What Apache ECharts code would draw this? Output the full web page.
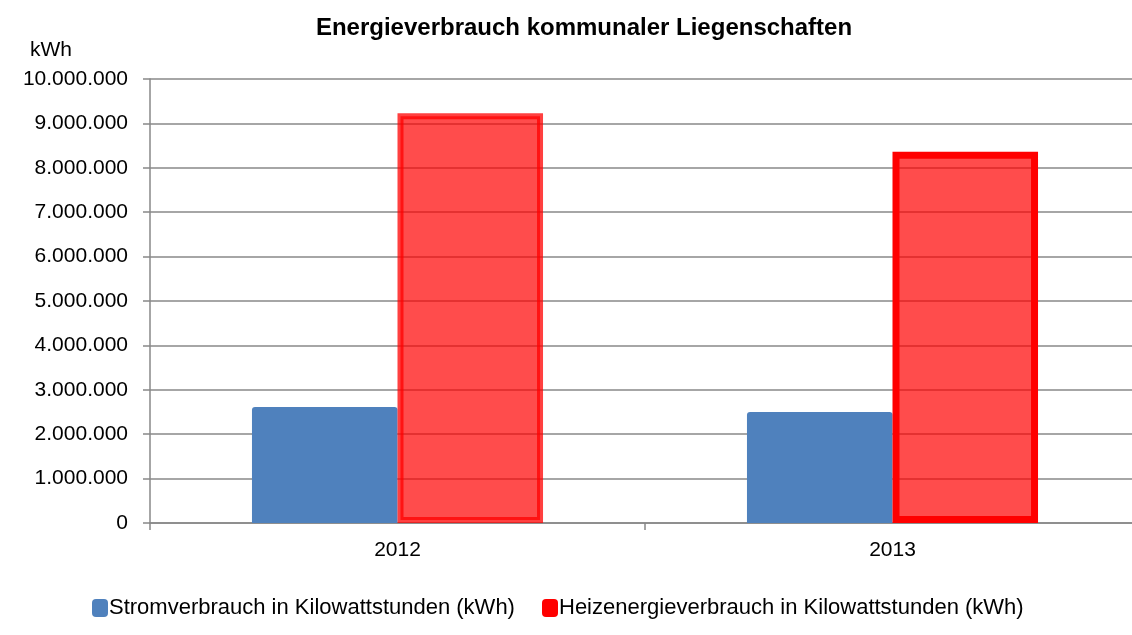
<!DOCTYPE html>
<html>
<head>
<meta charset="utf-8">
<script src="https://cdn.jsdelivr.net/npm/echarts@6/dist/echarts.min.js"></script>
<style>
  html, body { margin: 0; padding: 0; background: #fff; overflow: hidden; }
  /* etwas breiter als das Fenster: das Diagramm läuft rechts aus dem Bild */
  #chart { width: 1140px; height: 635px; }
</style>
</head>
<body>
<div id="chart"></div>
<script>
const years = ['2012', '2013']
const stromValues = [2610000, 2500000]
const heizValues = [9230000, 8360000]
const seriesNames = [
  'Stromverbrauch in Kilowattstunden (kWh)',
  'Heizenergieverbrauch in Kilowattstunden (kWh)',
]

const font = '"Liberation Sans", Arial, sans-serif'
const fmt = (v) => String(v).replace(/\B(?=(\d{3})+(?!\d))/g, '.')

// 2012 hat einen halbtransparenten Rand, 2013 einen kräftigen
const heizBorders = [
  { borderColor: 'rgba(255, 0, 0, 0.75)', borderWidth: 6 },
  { borderColor: '#ff0000', borderWidth: 7 },
]

const legendBase = {
  bottom: 11,
  itemWidth: 16,
  itemHeight: 18,
  icon: 'roundRect',
  textStyle: { fontFamily: font, fontSize: 22, color: '#000', padding: [0, 0, 0, -4] },
}

const chart = echarts.init(document.getElementById('chart'))

chart.setOption({
  animation: false,
  backgroundColor: '#fff',
  textStyle: { fontFamily: font },
  title: [
    {
      text: 'Energieverbrauch kommunaler Liegenschaften',
      left: 579,
      top: 11,
      textAlign: 'center',
      textStyle: { fontFamily: font, fontSize: 24, fontWeight: 'bold', color: '#000' },
    },
    {
      text: 'kWh',
      left: 25,
      top: 35,
      textStyle: { fontFamily: font, fontSize: 21, fontWeight: 'normal', color: '#000' },
    },
  ],
  legend: [
    { ...legendBase, left: 87, data: [seriesNames[0]] },
    { ...legendBase, left: 537, data: [seriesNames[1]] },
  ],
  grid: { left: 150, right: 0, top: 79, bottom: 112, containLabel: false },
  xAxis: {
    type: 'category',
    data: years,
    axisLine: { lineStyle: { color: '#888', width: 1.5 } },
    axisTick: { show: true, length: 7, lineStyle: { color: '#888', width: 1.5 } },
    axisLabel: { fontSize: 21, color: '#000', margin: 17 },
  },
  yAxis: {
    type: 'value',
    min: 0,
    max: 10000000,
    interval: 1000000,
    axisLine: { show: true, lineStyle: { color: '#888', width: 1.5 } },
    axisTick: { show: true, length: 7, lineStyle: { color: '#888', width: 1.5 } },
    axisLabel: { fontSize: 21, color: '#000', margin: 22, formatter: fmt },
    splitLine: { lineStyle: { color: '#888', width: 1.5 } },
  },
  series: [
    {
      name: seriesNames[0],
      type: 'bar',
      barWidth: '29.4%',
      barGap: '0%',
      itemStyle: { color: '#4f81bd', borderRadius: [3, 3, 0, 0] },
      data: stromValues,
    },
    {
      name: seriesNames[1],
      type: 'bar',
      barWidth: '29.4%',
      itemStyle: { color: '#ff0000' },
      data: heizValues.map((v, i) => ({
        value: v,
        itemStyle: { color: 'rgba(255, 0, 0, 0.7)', ...heizBorders[i] },
      })),
    },
  ],
})
</script>
</body>
</html>
